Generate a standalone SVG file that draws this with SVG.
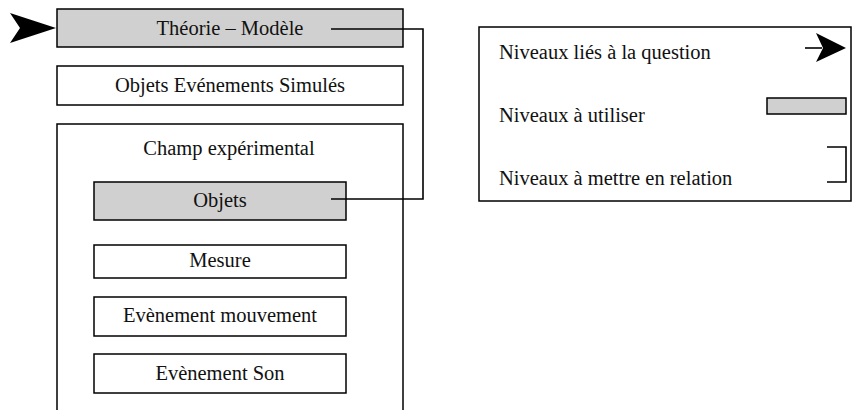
<svg xmlns="http://www.w3.org/2000/svg" width="854" height="410" viewBox="0 0 854 410">
<style>
.box{fill:#fff;stroke:#000;stroke-width:1.5}
.gray{fill:#d0d0d0;stroke:#000;stroke-width:1.5}
.t{font-size:20.5px;fill:#111}
.c{text-anchor:middle}
.ln{fill:none;stroke:#000;stroke-width:1.6}
</style>
<rect width="854" height="410" fill="#fff"/>
<g id="arrow-in">
<polygon points="10,13 56,28 10,43 20,28" fill="#000"/>
</g>
<g font-family="Liberation Serif, DejaVu Serif, serif">
<g id="theorie">
<rect class="gray" x="57" y="9" width="346" height="38"/>
<text class="t c" x="230" y="35">Théorie – Modèle</text>
</g>
<g id="objets-simules">
<rect class="box" x="57" y="66" width="346" height="39"/>
<text class="t c" x="230" y="92">Objets Evénements Simulés</text>
</g>
<g id="champ">
<rect class="box" x="57" y="124" width="346" height="300"/>
<text class="t c" x="229" y="155">Champ expérimental</text>
</g>
<g id="objets">
<rect class="gray" x="94" y="182" width="252" height="38"/>
<text class="t c" x="220" y="207">Objets</text>
</g>
<g id="mesure">
<rect class="box" x="94" y="245" width="252" height="33"/>
<text class="t c" x="220" y="267">Mesure</text>
</g>
<g id="mouvement">
<rect class="box" x="94" y="297" width="252" height="39"/>
<text class="t c" x="220" y="322">Evènement mouvement</text>
</g>
<g id="son">
<rect class="box" x="94" y="354" width="252" height="39"/>
<text class="t c" x="220" y="380">Evènement Son</text>
</g>
<g id="connectors">
<polyline class="ln" points="331,29 423,29 423,199 331,199"/>
</g>
<g id="legend">
<rect class="box" x="479" y="27" width="372" height="174"/>
<text class="t" x="499" y="59">Niveaux liés à la question</text>
<text class="t" x="499" y="122">Niveaux à utiliser</text>
<text class="t" x="499" y="185">Niveaux à mettre en relation</text>
<line class="ln" x1="805" y1="48" x2="822" y2="48"/>
<polygon points="816,33 846,48 816,62 823,48" fill="#000"/>
<rect class="gray" x="767" y="98" width="79" height="16"/>
<polyline class="ln" points="827,147 846,147 846,182 827,182"/>
</g>
</g>
</svg>
